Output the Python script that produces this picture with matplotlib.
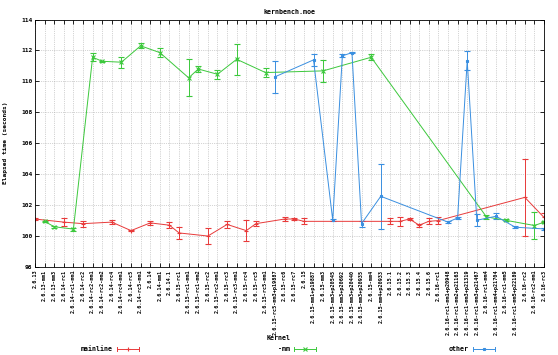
import numpy as np
import matplotlib
matplotlib.use('Agg')
import matplotlib.pyplot as plt
from matplotlib.lines import Line2D

# kernel names along the x axis
kernels = [
    '2.6.13', '2.6.13-mm1', '2.6.13-mm3', '2.6.14-rc1', '2.6.14-rc1-mm1',
    '2.6.14-rc2', '2.6.14-rc2-mm1', '2.6.14-rc2-mm2', '2.6.14-rc4', '2.6.14-rc4-mm1',
    '2.6.14-rc5', '2.6.14-rc5-mm1', '2.6.14', '2.6.14-mm1', '2.6.14.1',
    '2.6.15-rc1', '2.6.15-rc1-mm1', '2.6.15-rc1-mm2', '2.6.15-rc2', '2.6.15-rc2-mm1',
    '2.6.15-rc3', '2.6.15-rc3-mm1', '2.6.15-rc4', '2.6.15-rc5', '2.6.15-rc5-mm1',
    '2.6.15-rc5-mm3+p19887', '2.6.15-rc6', '2.6.15-rc7', '2.6.15', '2.6.15-mm1+p19887',
    '2.6.15-mm3', '2.6.15-mm3+p20545', '2.6.15-mm3+p20692', '2.6.15-mm3+p20440',
    '2.6.15-mm3+p20935', '2.6.15-mm4', '2.6.15-mm4+p20933', '2.6.15.1', '2.6.15.2',
    '2.6.15.3', '2.6.15.4', '2.6.15.6', '2.6.16-rc1', '2.6.16-rc1-mm1+p20948',
    '2.6.16-rc1-mm2+p21163', '2.6.16-rc1-mm3+p21319', '2.6.16-rc1-mm3+p21467',
    '2.6.16-rc1-mm4', '2.6.16-rc1-mm4+p21704', '2.6.16-rc1-mm5', '2.6.16-rc1-mm5+p22189',
    '2.6.16-rc2', '2.6.16-rc2-mm1', '2.6.16-rc3',
]

# mainline: kernel index, mean, error
main_idx = [0, 3, 5, 8, 10, 12, 14, 15, 18, 20, 22, 23, 26, 27, 28, 37, 38, 39, 40, 41, 42, 51, 53]
main_val = [101.1, 100.9, 100.8, 100.9, 100.35, 100.85, 100.7, 100.2, 100.0, 100.75, 100.35, 100.8,
            101.1, 101.1, 100.95, 100.95, 100.95, 101.1, 100.7, 100.95, 101.0, 102.5, 101.2]
main_err = [0.05, 0.25, 0.2, 0.15, 0.05, 0.15, 0.2, 0.4, 0.5, 0.25, 0.7, 0.15,
            0.15, 0.05, 0.2, 0.2, 0.3, 0.05, 0.1, 0.2, 0.2, 2.5, 0.3]

# -mm
mm_idx = [1, 2, 4, 6, 7, 9, 11, 13, 16, 17, 19, 21, 24, 30, 35, 47, 49, 52, 53]
mm_val = [100.95, 100.6, 100.45, 111.56, 111.3, 111.24, 112.3, 111.86, 110.23, 110.8, 110.46,
          111.43, 110.57, 110.68, 111.56, 101.24, 101.02, 100.68, 100.9]
mm_err = [0.05, 0.05, 0.1, 0.25, 0.05, 0.35, 0.15, 0.3, 1.2, 0.2, 0.3,
          1.0, 0.3, 0.7, 0.2, 0.15, 0.05, 0.9, 0.05]

# other (patched kernels)
oth_idx = [25, 29, 31, 32, 33, 34, 36, 43, 44, 45, 46, 48, 50, 53]
oth_val = [110.3, 111.39, 101.02, 111.65, 111.86, 100.8, 102.57, 100.9, 101.17, 111.34,
           101.02, 101.28, 100.57, 100.46]
oth_err = [1.04, 0.4, 0.05, 0.1, 0.05, 0.2, 2.1, 0.05, 0.05, 0.6, 0.4, 0.2, 0.05, 0.05]

yticks = [98, 100, 102, 104, 106, 108, 110, 112, 114]

c_main = '#e83a3a'
c_mm = '#3cc83c'
c_oth = '#3a8fe0'

plt.rcParams['font.family'] = 'DejaVu Sans Mono'
plt.rcParams['font.weight'] = 'bold'

fig = plt.figure(figsize=(5.58, 3.55), dpi=100)
ax = fig.add_axes([0.0627, 0.248, 0.9123, 0.697])

for idx, val, err, col, mk, ms in [(main_idx, main_val, main_err, c_main, '+', 2.5),
                                   (mm_idx, mm_val, mm_err, c_mm, 'x', 2.5),
                                   (oth_idx, oth_val, oth_err, c_oth, 's', 1.8)]:
    ax.errorbar(idx, val, yerr=err, color=col, lw=0.7, elinewidth=0.7, capsize=2,
                capthick=0.7, marker=mk, ms=ms, mew=0.8)

ax.set_xlim(0, len(kernels) - 1)
ax.set_ylim(98, 114)
ax.set_xticks(np.arange(len(kernels)))
ax.set_xticklabels(kernels, rotation=90, fontsize=3.7)
ax.set_yticks(yticks)
ax.set_yticklabels([str(v) for v in yticks], fontsize=4.5)
ax.tick_params(direction='in', length=3, width=0.6, top=True, right=True, pad=2)
ax.grid(True, color='#aaaaaa', linestyle=':', linewidth=0.5)
for s in ax.spines.values():
    s.set_linewidth(0.6)

ax.set_title('kernbench.moe', fontsize=4.8, fontweight='bold', pad=4)
ax.set_ylabel('Elapsed time (seconds)', fontsize=4.5, fontweight='bold', labelpad=9)
fig.text(0.5, 1 - 338 / 355, 'Kernel', fontsize=4.8, fontweight='bold', ha='center', va='center')

# legend row at the bottom
for x_txt, name, col, mk in [(113, 'mainline', c_main, '+'), (290, '-mm', c_mm, 'x'),
                             (469, 'other', c_oth, 's')]:
    yy = 1 - 349 / 355
    fig.text(x_txt / 558, yy, name, fontsize=4.8, fontweight='bold', ha='right', va='center')
    x0 = (x_txt + 4) / 558
    x1 = (x_txt + 26) / 558
    fig.add_artist(Line2D([x0, x1], [yy, yy], color=col, lw=0.7))
    fig.add_artist(Line2D([(x0 + x1) / 2], [yy], color=col, marker=mk, ms=1.8 if mk == 's' else 2.5, mew=0.8))
    for xe in (x0, x1):
        fig.add_artist(Line2D([xe, xe], [yy - 0.006, yy + 0.006], color=col, lw=0.7))

fig.savefig('out.png', dpi=100)
